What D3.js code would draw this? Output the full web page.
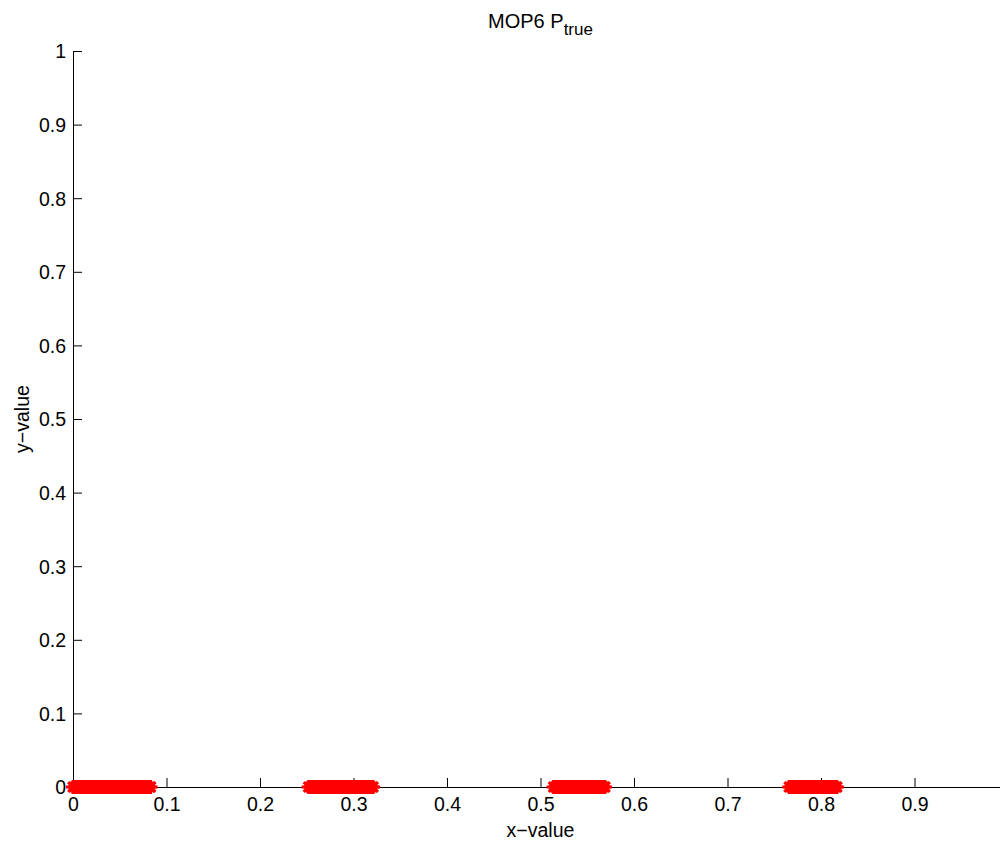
<!DOCTYPE html>
<html>
<head>
<meta charset="utf-8">
<script src="https://cdn.jsdelivr.net/npm/d3@7/dist/d3.min.js"></script>
<style>
  body { margin: 0; background: #fff; }
  svg text { font-family: "Liberation Sans", Arial, sans-serif; fill: #000; }
</style>
</head>
<body>
<svg id="chart" width="1000" height="842"></svg>
<script>
"use strict";

//Pareto front points (all sit on y = 0)
const ptrueX = [
  0.000, 0.002, 0.004, 0.006, 0.008, 0.010, 0.012, 0.014, 0.016, 0.018, 0.020,
  0.022, 0.024, 0.026, 0.028, 0.030, 0.032, 0.034, 0.036, 0.038, 0.040, 0.042,
  0.044, 0.046, 0.048, 0.050, 0.052, 0.054, 0.056, 0.058, 0.060, 0.062, 0.064,
  0.066, 0.068, 0.070, 0.072, 0.074, 0.076, 0.078, 0.080, 0.082, 0.083,
  0.252, 0.254, 0.256, 0.258, 0.260, 0.262, 0.264, 0.266, 0.268, 0.270, 0.272,
  0.274, 0.276, 0.278, 0.280, 0.282, 0.284, 0.286, 0.288, 0.290, 0.292, 0.294,
  0.296, 0.298, 0.300, 0.302, 0.304, 0.306, 0.308, 0.310, 0.312, 0.314, 0.316,
  0.318, 0.320, 0.321,
  0.514, 0.516, 0.518, 0.520, 0.522, 0.524, 0.526, 0.528, 0.530, 0.532, 0.534,
  0.536, 0.538, 0.540, 0.542, 0.544, 0.546, 0.548, 0.550, 0.552, 0.554, 0.556,
  0.558, 0.560, 0.562, 0.564, 0.566, 0.568, 0.569,
  0.766, 0.768, 0.770, 0.772, 0.774, 0.776, 0.778, 0.780, 0.782, 0.784, 0.786,
  0.788, 0.790, 0.792, 0.794, 0.796, 0.798, 0.800, 0.802, 0.804, 0.806, 0.808,
  0.810, 0.812, 0.814, 0.816, 0.817
];
const ptrueY = ptrueX.map(() => 0);

const xTicks = [0, 0.1, 0.2, 0.3, 0.4, 0.5, 0.6, 0.7, 0.8, 0.9];
const yTicks = [0, 0.1, 0.2, 0.3, 0.4, 0.5, 0.6, 0.7, 0.8, 0.9, 1];

const plotLeft = 73;
const plotRight = 1008;
const plotTop = 51;
const plotBottom = 787;
const fontSize = 19.5;

const svg = d3.select("#chart");

const xScale = d3.scaleLinear().domain([0, 1]).range([plotLeft, plotRight]);
const yScale = d3.scaleLinear().domain([0, 1]).range([plotBottom, plotTop]);

//MATLAB style: ticks pointing inward
const xAxis = d3.axisBottom(xScale)
  .tickValues(xTicks)
  .tickFormat(d3.format("~g"))
  .tickSizeInner(-9)
  .tickSizeOuter(0)
  .tickPadding(10);

const yAxis = d3.axisLeft(yScale)
  .tickValues(yTicks)
  .tickFormat(d3.format("~g"))
  .tickSizeInner(-9)
  .tickSizeOuter(0)
  .tickPadding(7);

const xAxisG = svg.append("g")
  .attr("transform", `translate(0, ${plotBottom})`)
  .call(xAxis);

const yAxisG = svg.append("g")
  .attr("transform", `translate(${plotLeft}, 0)`)
  .call(yAxis);

[xAxisG, yAxisG].forEach((g) => {
  g.selectAll("text")
    .style("font-family", "'Liberation Sans', Arial, sans-serif")
    .style("font-size", `${fontSize}px`)
    .attr("fill", "#000");
  g.selectAll("line, path").attr("stroke", "#000").attr("stroke-width", 1);
});
xAxisG.selectAll("text").attr("dy", "0.71em");
yAxisG.selectAll("text").attr("dy", "0.35em");

//asterisk markers
const r = 7;
const star = `M${-r},0L${r},0M0,${-r}L0,${r}` +
  `M${-r * 0.7},${-r * 0.7}L${r * 0.7},${r * 0.7}` +
  `M${-r * 0.7},${r * 0.7}L${r * 0.7},${-r * 0.7}`;

svg.append("g")
  .selectAll("path")
  .data(ptrueX.map((x, i) => ({ x, y: ptrueY[i] })))
  .enter()
  .append("path")
  .attr("transform", (d) => `translate(${xScale(d.x)}, ${yScale(d.y)})`)
  .attr("d", star)
  .attr("fill", "none")
  .attr("stroke", "#ff0000")
  .attr("stroke-width", 3);

//Title with subscript
const title = svg.append("text")
  .attr("x", (plotLeft + plotRight) / 2)
  .attr("y", 28)
  .attr("text-anchor", "middle")
  .style("font-size", "20px");
title.append("tspan").text("MOP6 P");
title.append("tspan")
  .attr("dy", 7)
  .style("font-size", "17px")
  .text("true");

svg.append("text")
  .attr("x", (plotLeft + plotRight) / 2)
  .attr("y", 837)
  .attr("text-anchor", "middle")
  .style("font-size", `${fontSize}px`)
  .text("x\u2212value");

svg.append("text")
  .attr("transform", `translate(29, ${(plotTop + plotBottom) / 2}) rotate(-90)`)
  .attr("text-anchor", "middle")
  .style("font-size", `${fontSize}px`)
  .text("y\u2212value");
</script>
</body>
</html>
